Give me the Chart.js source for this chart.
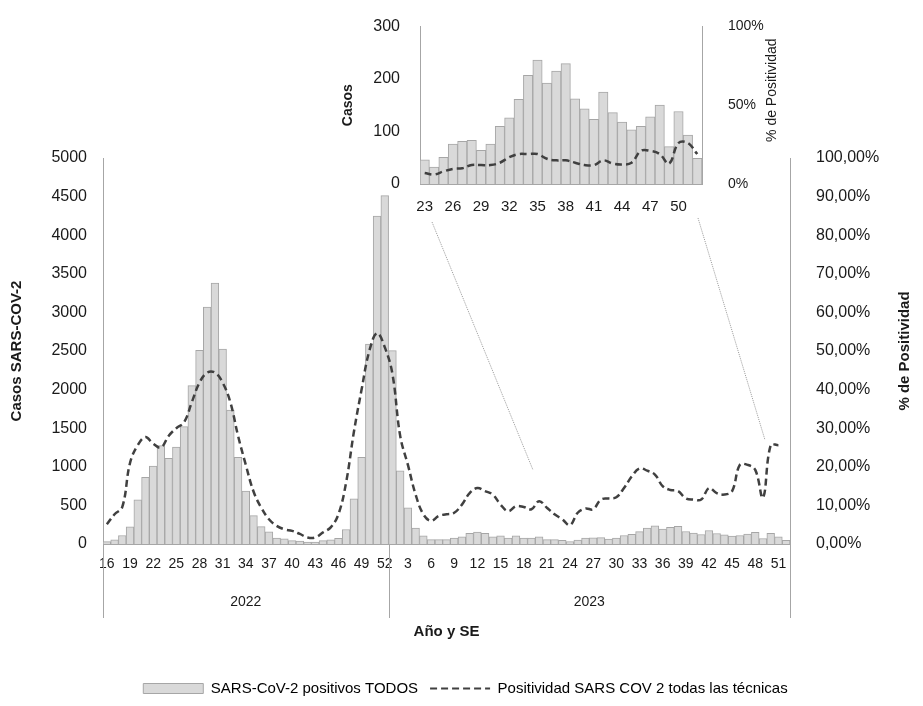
<!DOCTYPE html>
<html><head><meta charset="utf-8">
<script src="https://cdn.jsdelivr.net/npm/chart.js@4"></script>
<style>body{margin:0;background:#fff}#wrap{position:relative;width:923px;height:706px}
canvas{position:absolute}</style></head>
<body><div id="wrap"><canvas id="main" width="923" height="706" style="left:0;top:0"></canvas><canvas id="ins" width="460" height="222" style="left:340px;top:0"></canvas></div>
<script>
const weeks2022 = [16,17,18,19,20,21,22,23,24,25,26,27,28,29,30,31,32,33,34,35,36,37,38,39,40,41,42,43,44,45,46,47,48,49,50,51,52];
const weeks2023 = Array.from({length:52},(_, i)=>i+1);
const casos2022 = [30,55,110,222,573,863,1009,1274,1111,1256,1521,2051,2509,3068,3380,2526,1735,1124,684,368,226,158,77,68,43,38,26,26,43,55,73,188,585,1124,2590,4248,4513];
const casos2023 = [2504,949,470,205,107,56,56,56,77,94,137,154,137,94,107,77,107,77,77,94,56,56,46,32,51,76,81,83,64,76,110,126,161,207,236,192,215,229,162,143,123,175,136,118,103,110,128,150,71,138,93,49];
const pos2022 = [5.1,7.7,9.6,21,25.6,27.7,26,25,28,30,31.5,36.7,41.8,44.4,44.4,41.8,36.7,28,20.5,13.6,9.4,6.4,4.7,3.8,3.4,2.6,1.7,1.7,3,4.3,7.7,16,29,40,50,54.6,51];
const pos2023 = [44,28,20.5,12.8,7.7,6,7.3,7.7,8.1,10.2,13.2,14.5,13.7,12.8,10.2,8.5,9.8,9.6,9,11.1,9.4,7.7,6.4,4.9,8.1,9.2,9,11.5,11.8,12.1,14.5,17.5,19.6,19,18,15,14,13.7,11.8,11.5,11.5,14.5,13.2,12.8,13.7,20.5,20.5,19.2,12,25.6,25.6,null];
const insetWeeks = weeks2023.slice(22);
const insetCasos = casos2023.slice(22);
const insetPos = [7,6,8,9.6,10,12,12,12,13.5,17,19,19,19,16,15,15,13.5,12,12,15,13,12.4,13.5,21,21,19,13,26,26,19];

const FONT = "'Liberation Sans', Arial, sans-serif";
Chart.defaults.font.family = FONT;
Chart.defaults.color = '#1a1a1a';
Chart.defaults.animation = false;
const BAR = '#d9d9d9', BARB = '#a6a6a6', LINE = '#404040', AX = '#a6a6a6';

function vText(ctx, text, x, y, font){
  ctx.save(); ctx.translate(x,y); ctx.rotate(-Math.PI/2);
  ctx.font=font; ctx.fillStyle='#1a1a1a'; ctx.textAlign='center'; ctx.textBaseline='middle';
  ctx.fillText(text,0,0); ctx.restore();
}
const labels = weeks2022.map(String).concat(weeks2023.map(String));
const decor = {
  id:'decor',
  afterDraw(c){
    const ctx=c.ctx, a=c.chartArea, x=c.scales.x;
    const n2022=weeks2022.length;
    const sep = (x.getPixelForValue(n2022-1)+x.getPixelForValue(n2022))/2;
    ctx.save();
    ctx.strokeStyle=AX; ctx.lineWidth=1;
    [a.left, sep, a.right].forEach(px=>{ctx.beginPath();ctx.moveTo(Math.round(px)+0.5,a.bottom);ctx.lineTo(Math.round(px)+0.5,a.bottom+74);ctx.stroke();});
    ctx.fillStyle='#1a1a1a'; ctx.font='14px '+FONT; ctx.textAlign='center'; ctx.textBaseline='middle';
    ctx.fillText('2022',(a.left+sep)/2,a.bottom+58);
    ctx.fillText('2023',(sep+a.right)/2,a.bottom+58);
    ctx.font='bold 15px '+FONT;
    ctx.fillText('Año y SE',(a.left+a.right)/2,a.bottom+88);
    ctx.strokeStyle='#999'; ctx.setLineDash([1,1]);
    ctx.beginPath();ctx.moveTo(432,222);ctx.lineTo(533,470);ctx.stroke();
    ctx.beginPath();ctx.moveTo(698,218);ctx.lineTo(765,440);ctx.stroke();
    ctx.restore();
    vText(ctx,'% de Positividad',905,(a.top+a.bottom)/2,'bold 15px '+FONT);
  }
};
new Chart(document.getElementById('main'),{
  data:{labels,datasets:[
    {type:'bar',label:'SARS-CoV-2 positivos TODOS',data:casos2022.concat(casos2023),backgroundColor:BAR,borderColor:BARB,borderWidth:1,categoryPercentage:1,barPercentage:1,yAxisID:'y',order:2},
    {type:'line',label:'Positividad SARS COV 2 todas las técnicas',data:pos2022.concat(pos2023),borderColor:LINE,borderWidth:2.5,borderDash:[7,4],pointRadius:0,tension:0.4,fill:false,yAxisID:'y1',order:1}
  ]},
  options:{responsive:false,maintainAspectRatio:false,devicePixelRatio:1,
    layout:{padding:{top:158,left:8,right:0,bottom:0}},
    plugins:{tooltip:{enabled:false},
      legend:{position:'bottom',labels:{font:{size:15},color:'#1a1a1a',usePointStyle:true,pointStyleWidth:60,boxHeight:10,padding:12,
        generateLabels(c){return [
          {text:'SARS-CoV-2 positivos TODOS',fillStyle:BAR,strokeStyle:BARB,lineWidth:1,pointStyle:'rect',datasetIndex:0},
          {text:'Positividad SARS COV 2 todas las técnicas',fillStyle:'rgba(0,0,0,0)',strokeStyle:LINE,lineWidth:2,lineDash:[7,4],pointStyle:'line',datasetIndex:1}];}}}},
    scales:{
      x:{grid:{display:false},border:{color:AX},
        ticks:{autoSkip:false,maxRotation:0,minRotation:0,font:{size:14},padding:4,callback:(v,i)=>i%3===0?labels[i]:''},
        afterFit:s=>{s.height=125;}},
      y:{position:'left',min:0,max:5000,grid:{display:false},border:{color:AX},
        ticks:{stepSize:500,font:{size:16},padding:8,callback:v=>String(v)},
        title:{display:true,text:'Casos SARS-COV-2',font:{size:15,weight:'bold'},padding:0},
        afterFit:s=>{s.width=95;}},
      y1:{position:'right',min:0,max:100,grid:{display:false},border:{color:AX},
        ticks:{stepSize:10,font:{size:16},padding:18,callback:v=>v.toFixed(2).replace('.',',')+'%'},
        afterFit:s=>{s.width=133;}}
    }},
  plugins:[decor]
});
new Chart(document.getElementById('ins'),{
  data:{labels:insetWeeks.map(String),datasets:[
    {type:'bar',data:insetCasos,backgroundColor:BAR,borderColor:BARB,borderWidth:1,categoryPercentage:1,barPercentage:1,yAxisID:'y',order:2},
    {type:'line',data:insetPos,borderColor:LINE,borderWidth:2.5,borderDash:[7,4],pointRadius:0,tension:0.4,yAxisID:'y1',order:1}
  ]},
  options:{responsive:false,maintainAspectRatio:false,devicePixelRatio:1,
    layout:{padding:{top:22,left:0,right:0,bottom:0}},
    plugins:{legend:{display:false},tooltip:{enabled:false}},
    scales:{
      x:{grid:{display:false},border:{color:AX},
        ticks:{autoSkip:false,maxRotation:0,font:{size:15},padding:6,callback:(v,i)=>i%3===0?insetWeeks[i]:''},
        afterFit:s=>{s.height=38;}},
      y:{position:'left',min:0,max:300,grid:{display:false},border:{color:AX},
        ticks:{stepSize:100,font:{size:16},padding:12},
        title:{display:true,text:'Casos',font:{size:14,weight:'bold'},padding:0},
        afterFit:s=>{s.width=80;}},
      y1:{position:'right',min:0,max:100,grid:{display:false},border:{color:AX},
        ticks:{stepSize:50,font:{size:14},padding:18,callback:v=>v+'%'},
        afterFit:s=>{s.width=98;}}
    }},
  plugins:[{id:'rt',afterDraw(c){const a=c.chartArea;vText(c.ctx,'% de Positividad',432,(a.top+a.bottom)/2-15,'14px '+FONT);}}]
});
</script></body></html>
